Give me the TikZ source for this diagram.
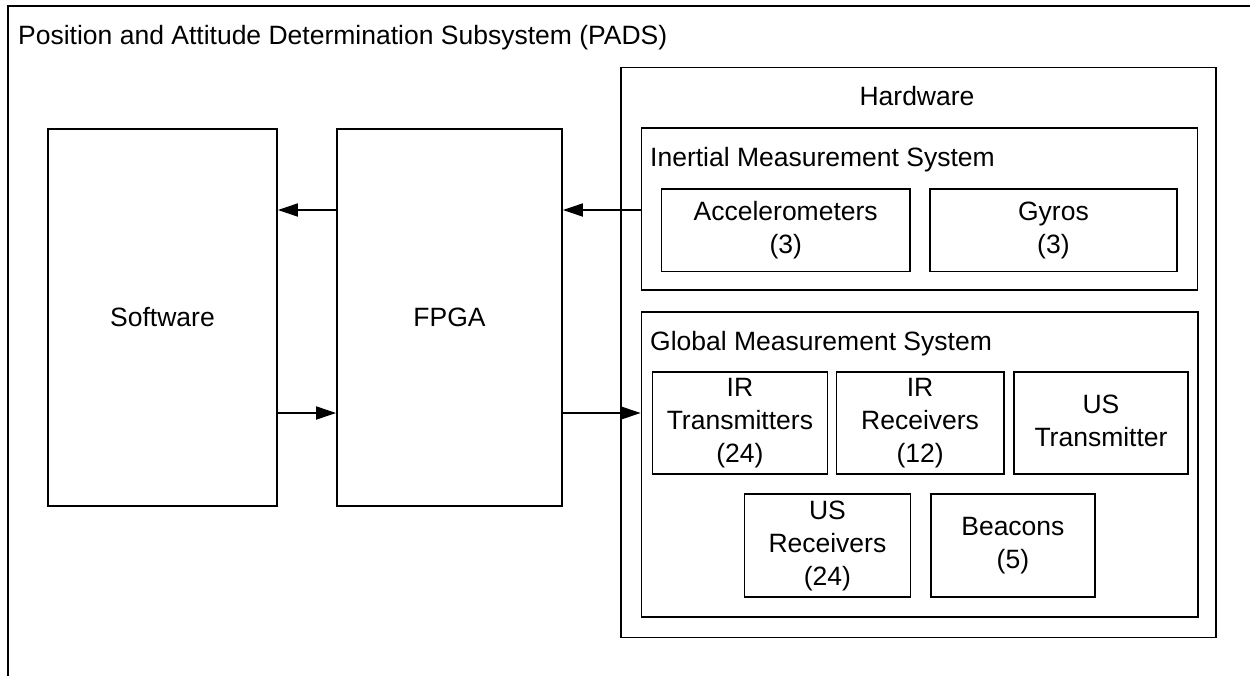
\documentclass[tikz,border=0pt]{standalone}
\usepackage{fontspec}
\setmainfont{Liberation Sans}
\usetikzlibrary{arrows.meta}

% centred multi-line label
\newcommand\stk[1]{\begin{tabular}{@{}c@{}}#1\end{tabular}}

\tikzset{
  txt/.style={font=\fontsize{26.5}{33}\selectfont},
  box/.style={draw, line width=1.8pt, inner sep=0pt, txt},
  lbl/.style={inner sep=0pt, txt},
  arr/.style={line width=1.8pt, -{Triangle[length=20pt,width=13pt]}},
  frame/.style={line width=1.8pt}
}

\begin{document}
\begin{tikzpicture}[x=1pt, y=-1pt]
\useasboundingbox (0,0) rectangle (1250,675);

% subsystem frame (open to the right and bottom)
\draw[frame] (8,700) -- (8,6) -- (1270,6);
\node[lbl, anchor=base west] (title) at (18,44)
  {Position and Attitude Determination Subsystem (PADS)};

% left blocks
\node[box, minimum width=229pt, minimum height=377pt] (sw) at (162.5,317.5) {Software};
\node[box, minimum width=225pt, minimum height=377pt] (fpga) at (449.5,317.5) {FPGA};

% hardware container
\node[box, minimum width=595pt, minimum height=570pt] (hw) at (918.5,352.5) {};
\node[lbl, anchor=base] (hwlbl) at (917,105.5) {Hardware};

% inertial measurement system
\node[box, minimum width=556pt, minimum height=162pt] (ims) at (919.5,209.2) {};
\node[lbl, anchor=base west] (imslbl) at (650,166.5) {Inertial Measurement System};
\node[box, minimum width=248.6pt, minimum height=82.5pt] (acc) at (785.7,230.3) {\stk{Accelerometers\\(3)}};
\node[box, minimum width=246.8pt, minimum height=82.5pt] (gyro) at (1053.4,230.3) {\stk{Gyros\\(3)}};

% global measurement system
\node[box, minimum width=556.5pt, minimum height=305.3pt] (gms) at (919.8,464.3) {};
\node[lbl, anchor=base west] (gmslbl) at (650,350) {Global Measurement System};
\node[box, minimum width=175pt, minimum height=102.3pt] (irt) at (739.9,422.9) {\stk{IR\\Transmitters\\(24)}};
\node[box, minimum width=167.2pt, minimum height=102.3pt] (irr) at (920.1,422.9) {\stk{IR\\Receivers\\(12)}};
\node[box, minimum width=174.7pt, minimum height=102.3pt] (ust) at (1101,422.9) {\stk{US\\Transmitter}};
\node[box, minimum width=166pt, minimum height=102.4pt] (usr) at (827.4,545.5) {\stk{US\\Receivers\\(24)}};
\node[box, minimum width=164.3pt, minimum height=102.4pt] (bcn) at (1012.9,545.5) {\stk{Beacons\\(5)}};

% data flow
\coordinate (up) at (0,210);
\coordinate (lo) at (0,413);
\draw[arr] (ims.west |- up) -- (fpga.east |- up);
\draw[arr] (fpga.west |- up) -- (sw.east |- up);
\draw[arr] (sw.east |- lo) -- (fpga.west |- lo);
\draw[arr] (fpga.east |- lo) -- (gms.west |- lo);
\end{tikzpicture}
\end{document}
